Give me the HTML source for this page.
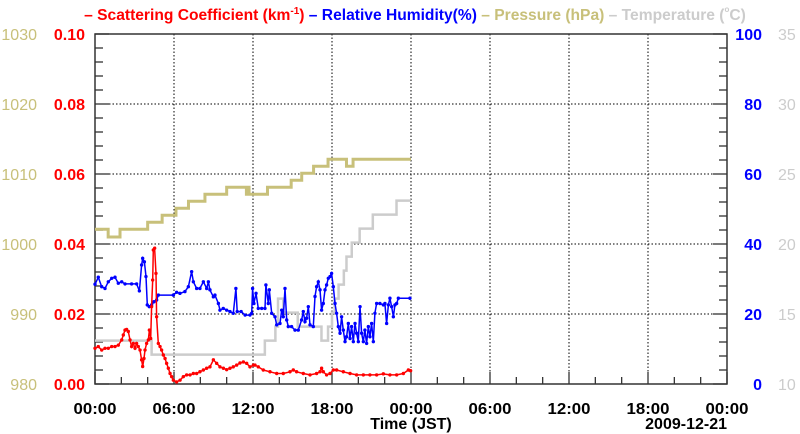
<!DOCTYPE html>
<html><head><meta charset="utf-8"><style>
html,body{margin:0;padding:0;background:#fff;}
svg{display:block;font-family:"Liberation Sans",Arial,sans-serif;}
</style></head><body>
<svg id="chart" width="800" height="434" viewBox="0 0 800 434" xmlns="http://www.w3.org/2000/svg">
<text x="415" y="20" text-anchor="middle" font-size="15.6" font-weight="bold"><tspan fill="#ff0000">– Scattering Coefficient (km</tspan><tspan fill="#ff0000" font-size="10" dy="-6">-1</tspan><tspan fill="#ff0000" dy="6">)</tspan><tspan fill="#0000ff"> – Relative Humidity(%)</tspan><tspan fill="#c8c07a"> – Pressure (hPa)</tspan><tspan fill="#cccccc"> – Temperature (</tspan><tspan fill="#cccccc" font-size="8" dy="-8">o</tspan><tspan fill="#cccccc" dy="8">C)</tspan></text>
<g id="grid"></g><g id="axes"></g><g id="series"></g>
<text x="411" y="429" text-anchor="middle" font-size="16" font-weight="bold">Time (JST)</text>
<text x="727" y="429" text-anchor="end" font-size="16" font-weight="bold">2009-12-21</text>
</svg>
<script>
// data
const xTickLabels = ["00:00","06:00","12:00","18:00","00:00","06:00","12:00","18:00","00:00"];
const scatTicks = ["0.00","0.02","0.04","0.06","0.08","0.10"];
const rhTicks = ["0","20","40","60","80","100"];
const presTicks = ["980","990","1000","1010","1020","1030"];
const tempTicks = ["10","15","20","25","30","35"];
const scatHours = [0,.25,.51,.76,1.01,1.27,1.52,1.77,2.03,2.15,2.28,2.4,2.53,2.66,2.78,2.91,3.04,3.16,3.29,3.42,3.54,3.62,3.72,3.8,3.92,4.05,4.13,4.23,4.3,4.38,4.43,4.53,4.63,4.68,4.81,4.94,5.06,5.19,5.32,5.44,5.57,5.7,5.82,5.95,6.2,6.46,6.71,6.96,7.22,7.47,7.72,7.97,8.23,8.48,8.73,8.99,9.24,9.49,9.75,10,10.25,10.5,10.76,11.01,11.27,11.52,11.77,12.03,12.15,12.4,12.78,13.29,13.8,14.3,14.81,15.06,15.31,15.82,16.33,16.83,17.09,17.21,17.34,17.59,17.85,18.1,18.35,18.86,19.37,19.87,20.38,20.88,21.39,21.9,22.4,22.91,23.42,23.8,23.97];
const scatValues = [.0102,.0107,.0097,.0102,.0102,.0107,.0107,.0111,.0126,.014,.0154,.0156,.015,.0126,.0107,.0116,.0102,.0116,.0107,.0097,.0069,.005,.0073,.0097,.0116,.0126,.0154,.013,.0221,.0297,.0383,.0388,.0316,.0192,.0116,.0107,.0097,.0083,.0073,.0059,.0045,.003,.0021,.0011,.0006,.0011,.0021,.0026,.0026,.003,.003,.0035,.004,.0045,.0049,.0069,.0059,.0049,.0045,.0041,.0045,.0049,.0054,.006,.0063,.0059,.0049,.0054,.0054,.0049,.004,.0035,.003,.003,.0035,.004,.0035,.003,.0026,.003,.0035,.0045,.0035,.0026,.003,.004,.004,.0035,.003,.0026,.0026,.0026,.0026,.0029,.0026,.0026,.003,.004,.0038];
const rhHours = [0,.25,.51,.76,1.01,1.27,1.52,1.77,2.03,2.28,2.78,3.16,3.37,3.54,3.62,3.75,3.87,3.97,4.12,4.3,4.48,4.68,4.81,5.95,6.2,6.45,6.83,7.09,7.34,7.47,7.72,7.97,8.23,8.48,8.61,8.73,8.99,9.11,9.37,9.49,9.74,10,10.25,10.5,10.7,10.8,11.1,11.4,11.77,11.9,11.97,12.07,12.23,12.4,12.66,12.91,12.98,13.16,13.24,13.42,13.67,13.8,14.05,14.18,14.3,14.43,14.56,14.68,14.93,15.19,15.44,15.69,15.82,15.95,16.07,16.2,16.33,16.58,16.71,16.83,16.96,17.09,17.21,17.34,17.47,17.59,17.72,17.85,17.97,18.1,18.23,18.35,18.48,18.61,18.73,18.86,18.99,19.11,19.24,19.37,19.49,19.62,19.75,19.87,20,20.13,20.25,20.38,20.5,20.63,20.76,20.88,21.01,21.14,21.26,21.39,21.64,21.9,22.02,22.15,22.28,22.4,22.53,22.66,22.78,22.91,23.04,23.92];
const rhValues = [28.5,30.5,27.8,27.3,29.2,30.2,30.5,28.8,29.2,28.6,28.6,28.6,26.6,34,35.9,34.9,30.7,22.6,22.1,22.6,23.5,24,25.4,25.4,26.2,25.9,26.4,27.8,32.1,29.2,27.3,27.3,29.2,27.3,29.2,26.9,24.9,25.4,23,21.1,21.6,21.1,20.7,20.2,27.3,20.7,20.7,19.7,19.7,20.2,27.3,23,25.9,21.6,21.6,21.6,28.3,23,26.9,20.2,19.2,16.9,17.3,21.1,19.2,27.3,18.3,16.4,16.4,15.4,15.4,18.3,20.7,17.8,18.8,22.1,16.9,16.4,25,27.8,29.2,26.9,21.1,23,26.9,28.3,30.2,30.7,31.6,27.8,23,20.2,16.4,14.5,19.2,15.4,12.1,13.5,17.3,13,16.4,12.1,17.3,14.5,12.1,22.1,14.5,12.1,15.4,11.6,16.4,13.5,17.3,12.1,20.2,23,23,22.6,23,17.3,22.6,24.5,22.1,19.2,22.6,23,24.5,24.5];
const presHours = [0,1.0,1.9,4.0,5.1,6.15,7.1,8.35,10.0,11.5,11.6,11.7,13.1,14.9,15.7,16.6,17.7,19.1,19.6,24];
const presValues = [1002.1,1001.0,1002.1,1003.1,1004.1,1005.1,1006.1,1007.1,1008.1,1007.1,1008.1,1007.1,1008.1,1009.1,1010.1,1011.1,1012.1,1011.1,1012.1,1012.1];
const tempHours = [0,4.3,12.9,13.7,13.9,14.3,15.4,17.2,17.7,18.0,18.2,18.5,18.9,19.1,19.5,20.1,21.1,22.9,24];
const tempValues = [13.1,12.1,13.1,14.1,16.1,15.1,14.1,13.1,14.1,15.1,16.1,17.1,18.1,19.1,20.1,21.1,22.1,23.1,23.1];

const NS="http://www.w3.org/2000/svg";
const L=95,R=727,T=34,B=384,SPAN=48;
const xs=h=>L+h*(R-L)/SPAN;
const yScat=v=>B-v/0.1*(B-T);
const yRH=v=>B-v/100*(B-T);
const yPres=v=>B-(v-980)/50*(B-T);
const yTemp=v=>B-(v-10)/25*(B-T);
function mk(tag,attrs,parent){const e=document.createElementNS(NS,tag);for(const k in attrs)e.setAttribute(k,attrs[k]);parent.appendChild(e);return e;}
const grid=document.getElementById('grid'),axes=document.getElementById('axes'),series=document.getElementById('series');
for(let i=1;i<8;i++){const x=xs(i*6);
const g=mk('line',{x1:x,x2:x,y1:T,y2:B,stroke:'#000','stroke-width':1,'stroke-dasharray':'1.5,2'},grid);

}
for(let i=1;i<5;i++){const y=B-i*(B-T)/5;
const g=mk('line',{x1:L,x2:R,y1:y,y2:y,stroke:'#000','stroke-width':1,'stroke-dasharray':'1.5,2'},grid);

}
const fr=mk('rect',{x:L,y:T,width:R-L,height:B-T,fill:'none',stroke:'#333','stroke-width':1.5},axes);


for(let i=0;i<=25;i++){const y=B-i*(B-T)/25;const len=i%5==0?14:8;
mk('line',{x1:L,x2:L+len,y1:y,y2:y,stroke:'#333','stroke-width':1.3},axes);
mk('line',{x1:R,x2:R-len,y1:y,y2:y,stroke:'#333','stroke-width':1.3},axes);}
for(let i=0;i<=24;i++){const x=xs(i*2);const len=i%3==0?12:7;
mk('line',{x1:x,x2:x,y1:B,y2:B-len,stroke:'#333','stroke-width':1.3},axes);}
xTickLabels.forEach((t,i)=>{const e=mk('text',{x:xs(i*6),y:414,'text-anchor':'middle','font-size':16,'font-weight':'bold',fill:'#000',textLength:43,lengthAdjust:'spacingAndGlyphs'},axes);e.textContent=t;

});
for(let i=0;i<6;i++){const y=B-i*(B-T)/5+6;
let e=mk('text',{x:37,y:y,'text-anchor':'end','font-size':16,fill:'#c8c07a'},axes);e.textContent=presTicks[i];


e=mk('text',{x:85,y:y,'text-anchor':'end','font-size':16,'font-weight':'bold',fill:'#ff0000'},axes);e.textContent=scatTicks[i];


e=mk('text',{x:762,y:y,'text-anchor':'end','font-size':16,'font-weight':'bold',fill:'#0000ff'},axes);e.textContent=rhTicks[i];


e=mk('text',{x:778,y:y,'text-anchor':'start','font-size':16,fill:'#cccccc'},axes);e.textContent=tempTicks[i];

}
function stepPath(hs,vs,ys){let d='M'+xs(hs[0])+','+ys(vs[0]);for(let i=1;i<hs.length;i++){d+=' H'+xs(hs[i])+' V'+ys(vs[i]);}return d;}
function linePath(hs,vs,ys){return hs.map((h,i)=>(i?'L':'M')+xs(h).toFixed(1)+','+ys(vs[i]).toFixed(1)).join(' ');}
let p=mk('path',{d:stepPath(tempHours,tempValues,yTemp),fill:'none',stroke:'#cccccc','stroke-width':2.5},series);


p=mk('path',{d:stepPath(presHours,presValues,yPres),fill:'none',stroke:'#c8c07a','stroke-width':3},series);


p=mk('path',{d:linePath(rhHours,rhValues,yRH),fill:'none',stroke:'#0000ff','stroke-width':1.5},series);


rhHours.forEach((h,i)=>{const c=mk('circle',{cx:xs(h),cy:yRH(rhValues[i]),r:1.7,fill:'#0000ff'},series);

});
p=mk('path',{d:linePath(scatHours,scatValues,yScat),fill:'none',stroke:'#ff0000','stroke-width':1.5},series);


scatHours.forEach((h,i)=>{const c=mk('circle',{cx:xs(h),cy:yScat(scatValues[i]),r:1.7,fill:'#ff0000'},series);

});
</script>
</body></html>
